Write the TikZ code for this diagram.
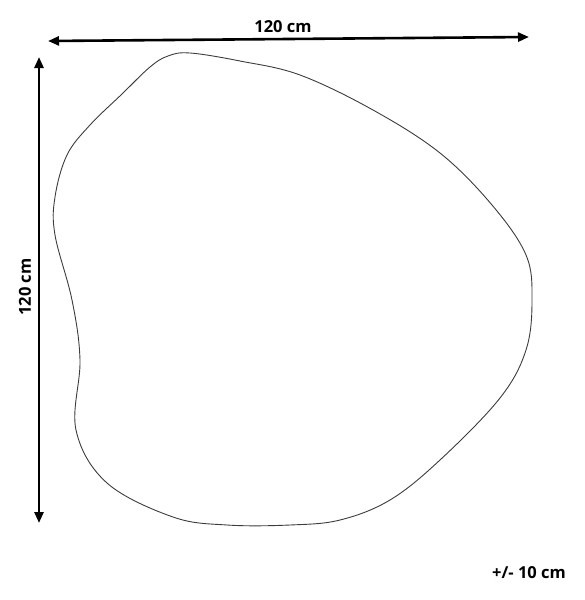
\documentclass[tikz,border=0pt]{standalone}
\usepackage{fontspec}
\setmainfont{Open Sans}
\usetikzlibrary{arrows.meta,positioning}
\definecolor{outlinegray}{RGB}{60,60,60}

\begin{document}
\begin{tikzpicture}[x=1pt, y=-1pt,
    dimline/.style={line width=2.6pt, {Triangle[length=11pt,width=9pt]}-{Triangle[length=11pt,width=9pt]}},
    dimlabel/.style={font=\fontsize{16.5}{18}\selectfont\bfseries, inner sep=0pt},
    mirror/.style={draw=outlinegray, line width=0.9pt}]
    \useasboundingbox (0,0) rectangle (584,600);
    % dimension lines
    \coordinate (topleft) at (48,41);
    \coordinate (topright) at (529,37);
    \coordinate (sidetop) at (39,57);
    \coordinate (sidebottom) at (39,523);
    \draw[dimline] (topleft) -- (topright);
    \draw[dimline] (sidetop) -- (sidebottom);
    \node [dimlabel] (width) at (283,27) {120 cm};
    \node [dimlabel, rotate=90] (height) at (25,287) {120 cm};
    \node [dimlabel] (tolerance) at (529,573) {+/- 10 cm};
    % mirror outline
    \draw[mirror] plot[smooth cycle, tension=0.6] coordinates {
        (190,53) (240,61) (300,75) (373,110) (440,153) (492,205)
        (526,255) (532,300) (526,350) (500,398) (440,460) (390,500)
        (340,520) (290,525) (227,525) (173,517) (107,483)
        (76,430) (80,360) (72,300) (55,235) (55,197)
        (67,155) (90,125) (122,94) (150,67) (168,56)};
\end{tikzpicture}
\end{document}
